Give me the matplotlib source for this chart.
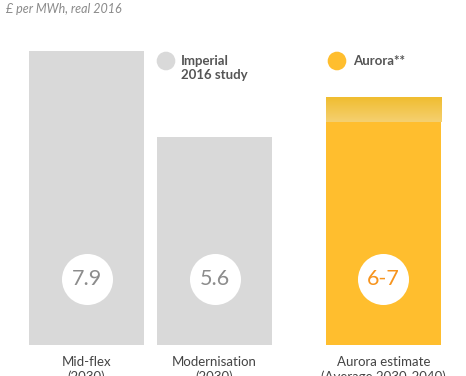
import numpy as np
import matplotlib.pyplot as plt
from matplotlib.colors import LinearSegmentedColormap

plt.rcParams['font.family'] = ['Lato', 'DejaVu Sans']

categories = ["Mid-flex\n(2030)", "Modernisation\n(2030)", "Aurora estimate\n(Average 2030-2040)"]
values = [7.9, 5.6]
value_labels = ["7.9", "5.6", "6-7"]
aurora_low = 6.0
aurora_high = 6.65
x_pos = [0, 1, 2.32]

GREY = "#d9d9d9"
YELLOW = "#ffbe2e"
TEXT = "#555555"

fig = plt.figure(figsize=(4.66, 3.76), dpi=100)
ax = fig.add_axes([0, 31 / 376, 1, 345 / 376])
ax.set_xlim(-0.676, 2.965)
ax.set_ylim(0, 9.27)
ax.axis("off")

w = 0.905
ax.bar(x_pos[:2], values, width=w, color=GREY, zorder=1)
ax.bar(x_pos[2], aurora_low, width=w, color=YELLOW, zorder=1)

# gradient top part of the aurora range (6-7)
cmap = LinearSegmentedColormap.from_list("top", ["#f5d070", "#f0bd30"])
grad = np.linspace(0, 1, 50).reshape(-1, 1)
ax.imshow(grad, cmap=cmap, aspect="auto", origin="lower", zorder=1,
          extent=(x_pos[2] - w / 2, x_pos[2] + w / 2, aurora_low, aurora_high))

# white circles with values
ax.scatter(x_pos, [1.77] * 3, s=1350, color="white", zorder=2, linewidths=0)
for i, lab in enumerate(value_labels):
    col = "#f7941d" if i == 2 else "#8c8c8c"
    ax.text(x_pos[i], 1.77, lab, ha="center", va="center", fontsize=15.5,
            color=col, zorder=3)

for xp, cat in zip(x_pos, categories):
    ax.text(xp, -0.30, cat, ha="center", va="top", fontsize=9.5,
            color="#444444", linespacing=1.25, clip_on=False)

# title
fig.text(0.012, 0.975, "£ per MWh, real 2016", ha="left", va="center",
         fontsize=9, style="italic", color="#8a8a8a")

# legend, drawn in pixel coordinates
ax_leg = fig.add_axes([0, 0, 1, 1], zorder=5)
ax_leg.set_xlim(0, 466)
ax_leg.set_ylim(376, 0)
ax_leg.axis("off")
ax_leg.scatter([166, 337], [61, 61], s=180, color=[GREY, YELLOW], linewidths=0)
ax_leg.text(181, 68, "Imperial\n2016 study", ha="left", va="center", fontsize=9.5,
            weight="bold", color=TEXT, linespacing=1.25)
ax_leg.text(353, 61, "Aurora**", ha="left", va="center", fontsize=9.5,
            weight="bold", color=TEXT)

fig.savefig("out.png", dpi=100)
